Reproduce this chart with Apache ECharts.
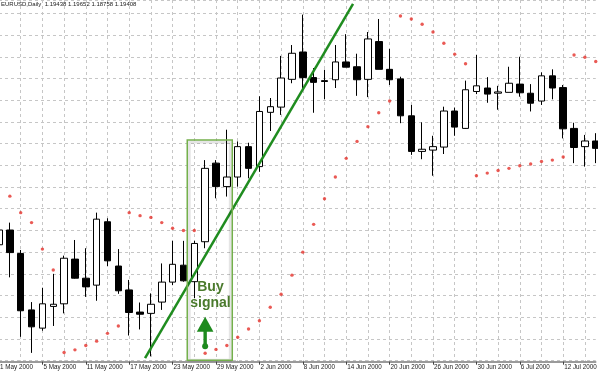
<!DOCTYPE html>
<html><head><meta charset="utf-8">
<script src="https://cdn.jsdelivr.net/npm/echarts@6/dist/echarts.min.js"></script>
<style>html,body{margin:0;padding:0;background:#fff}#c{width:598px;height:374px}</style>
</head><body><div id="c"></div>
<script>
const header = 'EURUSD,Daily  1.19438 1.19652 1.18758 1.19408';
const dates = [
 '1 May 2000','2 May 2000','3 May 2000','4 May 2000','5 May 2000','8 May 2000','9 May 2000','10 May 2000','11 May 2000','12 May 2000',
 '15 May 2000','16 May 2000','17 May 2000','18 May 2000','19 May 2000','22 May 2000','23 May 2000','24 May 2000','25 May 2000','26 May 2000',
 '29 May 2000','30 May 2000','31 May 2000','1 Jun 2000','2 Jun 2000','5 Jun 2000','6 Jun 2000','7 Jun 2000','8 Jun 2000','9 Jun 2000',
 '12 Jun 2000','13 Jun 2000','14 Jun 2000','15 Jun 2000','16 Jun 2000','19 Jun 2000','20 Jun 2000','21 Jun 2000','22 Jun 2000','23 Jun 2000',
 '26 Jun 2000','27 Jun 2000','28 Jun 2000','29 Jun 2000','30 Jun 2000','3 Jul 2000','4 Jul 2000','5 Jul 2000','6 Jul 2000','7 Jul 2000',
 '10 Jul 2000','11 Jul 2000','12 Jul 2000','13 Jul 2000','14 Jul 2000','17 Jul 2000'];
const opens = [
 0.9117,0.9151,0.9097,0.8967,0.8925,0.8975,0.8981,0.9084,0.9040,0.9024,
 0.9170,0.9068,0.9013,0.8962,0.8959,0.8985,0.9031,0.9070,0.9032,0.9124,
 0.9305,0.9251,0.9273,0.9343,0.9297,0.9422,0.9434,0.9498,0.9561,0.9502,
 0.9495,0.9497,0.9538,0.9527,0.9498,0.9585,0.9521,0.9499,0.9414,0.9332,
 0.9335,0.9342,0.9425,0.9385,0.9470,0.9478,0.9466,0.9468,0.9487,0.9466,
 0.9448,0.9506,0.9479,0.9385,0.9343,0.9356];
const closes = [
 0.9151,0.9099,0.8965,0.8928,0.8981,0.8980,0.9086,0.9040,0.9020,0.9176,
 0.9080,0.9011,0.8961,0.8957,0.8980,0.9031,0.9072,0.9034,0.9120,0.9293,
 0.9251,0.9273,0.9343,0.9293,0.9424,0.9435,0.9501,0.9558,0.9502,0.9491,
 0.9493,0.9538,0.9526,0.9497,0.9591,0.9521,0.9497,0.9414,0.9332,0.9337,
 0.9343,0.9425,0.9388,0.9474,0.9483,0.9464,0.9469,0.9489,0.9467,0.9443,
 0.9506,0.9478,0.9384,0.9341,0.9356,0.9339];
const lows = [
 0.9105,0.9042,0.8905,0.8868,0.8919,0.8930,0.8959,0.9039,0.8997,0.8988,
 0.9068,0.9004,0.8908,0.8922,0.8860,0.8967,0.9024,0.9032,0.8994,0.9109,
 0.9224,0.9228,0.9251,0.9270,0.9285,0.9379,0.9416,0.9489,0.9474,0.9421,
 0.9452,0.9478,0.9526,0.9460,0.9457,0.9521,0.9485,0.9397,0.9324,0.9314,
 0.9276,0.9326,0.9368,0.9384,0.9464,0.9444,0.9428,0.9468,0.9458,0.9424,
 0.9439,0.9452,0.9362,0.9305,0.9297,0.9305];
const highs = [
 0.9158,0.9168,0.9105,0.8985,0.9018,0.9050,0.9092,0.9128,0.9109,0.9191,
 0.9178,0.9107,0.9036,0.8984,0.9005,0.9074,0.9126,0.9126,0.9126,0.9312,
 0.9312,0.9382,0.9355,0.9352,0.9459,0.9455,0.9552,0.9577,0.9647,0.9524,
 0.9520,0.9577,0.9602,0.9557,0.9607,0.9637,0.9568,0.9504,0.9439,0.9399,
 0.9368,0.9435,0.9433,0.9495,0.9554,0.9503,0.9483,0.9527,0.9550,0.9487,
 0.9514,0.9521,0.9485,0.9398,0.9370,0.9374];
const sar = [
 null,0.9229,0.9191,0.9168,0.9107,0.9059,0.8869,0.8875,0.8885,0.8895,
 0.8913,0.8930,0.9191,0.9184,0.9180,0.9168,0.9155,0.9150,0.9150,0.8867,
 0.8876,0.8885,0.8904,0.8923,0.8942,0.8973,0.9003,0.9047,0.9100,0.9164,
 0.9223,0.9273,0.9316,0.9355,0.9389,0.9421,0.9448,0.9644,0.9637,0.9625,
 0.9607,0.9581,0.9556,0.9534,0.9276,0.9282,0.9288,0.9293,0.9299,0.9303,
 0.9309,0.9312,0.9319,0.9554,0.9549,0.9539];
const trendLine = [[13.46, 0.8856], [32.63, 0.9672]];
const signalBox = {x0: 17.35, x1: 21.5, top: 0.9358, bottom: 0.8851};
const arrow = {x: 19, tip: 0.8951, tail: 0.8883};
const signalText = {x: 19.49, y: 0.9001, text: 'Buy\nsignal'};

const candles = opens.map((o, i) => [o, closes[i], lows[i], highs[i]]);
const FONT = 'Liberation Sans, Arial, sans-serif';
const dash = {type: [3, 3], color: '#c6c6c6', width: 1};

const chart = echarts.init(document.getElementById('c'), null, {renderer: 'canvas'});
chart.setOption({
  animation: false,
  backgroundColor: '#ffffff',
  title: {text: header, left: 1, top: 1.5, padding: 0,
    textStyle: {fontSize: 6, fontWeight: 'normal', color: '#222', fontFamily: FONT}},
  grid: {left: -1, right: 2.25, top: 0, bottom: 13.3, containLabel: false, outerBoundsMode: 'none'},
  xAxis: [{
    type: 'category', data: dates, boundaryGap: false, offset: 1,
    axisLine: {lineStyle: {color: '#7a7a7a', width: 1.5}},
    axisTick: {interval: 3, length: 3, lineStyle: {color: '#444'}},
    axisLabel: {interval: 3, align: 'left', fontSize: 6.3, color: '#222', margin: 3,
      padding: [0, 0, 0, 1], fontFamily: FONT, hideOverlap: false},
    splitLine: {show: true, interval: 1, lineStyle: dash}
  }, {
    type: 'value', min: 0, max: 55, show: false
  }],
  yAxis: {type: 'value', min: 0.885, max: 0.96807, interval: 0.005, scale: true,
    axisLine: {show: false}, axisTick: {show: false}, axisLabel: {show: false},
    splitLine: {show: true, lineStyle: dash}},
  series: [{
    type: 'candlestick', data: candles, barWidth: 7, xAxisIndex: 0,
    itemStyle: {color: '#ffffff', color0: '#000000', borderColor: '#000000', borderColor0: '#000000', borderWidth: 1},
    z: 2
  }, {
    type: 'scatter', data: sar, symbol: 'circle', symbolSize: 3.4, xAxisIndex: 0,
    itemStyle: {color: '#e5312b'}, z: 3
  }, {
    type: 'line', xAxisIndex: 1, data: trendLine, symbol: 'none',
    lineStyle: {color: '#1f8c1f', width: 2.5}, z: 5, silent: true
  }, {
    type: 'custom', xAxisIndex: 1, yAxisIndex: 0, data: [[signalBox.x0, signalBox.top]], z: 6, silent: true,
    renderItem: function (params, api) {
      const p0 = api.coord([signalBox.x0, signalBox.top]);
      const p1 = api.coord([signalBox.x1, signalBox.bottom]);
      const w = p1[0] - p0[0], h = p1[1] - p0[1];
      const tip = api.coord([arrow.x, arrow.tip]);
      const tail = api.coord([arrow.x, arrow.tail]);
      const base = tip[1] + 15;
      const tp = api.coord([signalText.x, signalText.y]);
      return {type: 'group', children: [
        {type: 'rect', shape: {x: p0[0] + 2, y: p0[1] + 2, width: w - 4, height: h - 2},
          style: {fill: 'none', stroke: 'rgba(0,0,0,0.10)', lineWidth: 3}},
        {type: 'rect', shape: {x: p0[0], y: p0[1], width: w, height: h},
          style: {fill: 'none', stroke: '#74b04c', lineWidth: 1.5}},
        {type: 'polygon', shape: {points: [[tip[0], tip[1]], [tip[0] - 8.3, base], [tip[0] + 8.3, base]]},
          style: {fill: '#1e8a1e'}},
        {type: 'rect', shape: {x: tip[0] - 1.7, y: base - 1, width: 3.4, height: tail[1] - base + 1},
          style: {fill: '#1e8a1e'}},
        {type: 'circle', shape: {cx: tail[0], cy: tail[1], r: 3}, style: {fill: '#1e8a1e'}},
        {type: 'text', x: tp[0], y: tp[1],
          style: {text: signalText.text, fill: '#4a7a2c', fontSize: 14, fontWeight: 'bold',
            fontFamily: FONT, align: 'center', verticalAlign: 'middle', lineHeight: 15.5}}
      ]};
    }
  }]
});
</script></body></html>
